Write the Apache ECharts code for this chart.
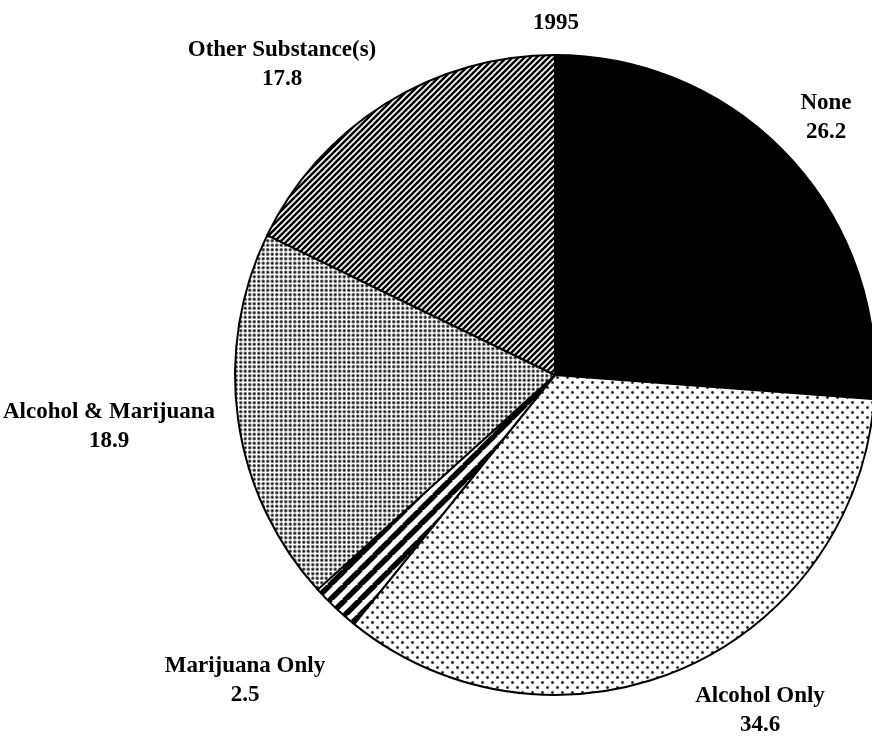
<!DOCTYPE html>
<html>
<head>
<meta charset="utf-8">
<script src="https://cdn.jsdelivr.net/npm/echarts@6/dist/echarts.min.js"></script>
<style>
  html, body { margin: 0; padding: 0; background: #fff; }
  #chart { width: 872px; height: 746px; }
</style>
</head>
<body>
<div id="chart"></div>
<script>
// Substance use, 1995 (percent)
const categories = ['None', 'Alcohol Only', 'Marijuana Only', 'Alcohol & Marijuana', 'Other Substance(s)'];
const shares = [26.2, 34.6, 2.5, 18.9, 17.8];
const chartTitle = '1995';

// where each category's caption block is centred
const labelSpots = [[826, 118], [760, 711], [245, 681], [109, 427], [282, 65]];

function makeTile(w, h, paint) {
  const c = document.createElement('canvas');
  c.width = w; c.height = h;
  const ctx = c.getContext('2d');
  ctx.fillStyle = '#fff';
  ctx.fillRect(0, 0, w, h);
  paint(ctx, w, h);
  return c;
}

function dot(ctx, x, y, r, a) {
  const g = ctx.createRadialGradient(x, y, 0, x, y, r);
  g.addColorStop(0, 'rgba(0,0,0,' + a + ')');
  g.addColorStop(0.5, 'rgba(0,0,0,' + (a * 0.65) + ')');
  g.addColorStop(1, 'rgba(0,0,0,0)');
  ctx.fillStyle = g;
  ctx.beginPath();
  ctx.arc(x, y, r, 0, Math.PI * 2);
  ctx.fill();
}

// sparse staggered dots
const sparseDots = makeTile(10, 10, (ctx) => {
  dot(ctx, 2.5, 2.5, 2.2, 1);
  dot(ctx, 7.5, 7.5, 2.2, 1);
});

// dense dot grid
const denseDots = makeTile(9, 9, (ctx) => {
  [[2.25, 2.25], [6.75, 2.25], [2.25, 6.75], [6.75, 6.75]].forEach(([x, y]) => dot(ctx, x, y, 2.3, 1));
});

// rising diagonal stripes
function stripes(size, width) {
  return makeTile(size, size, (ctx, w, h) => {
    ctx.strokeStyle = '#000';
    ctx.lineWidth = width;
    for (let k = -1; k <= 1; k++) {
      ctx.beginPath();
      ctx.moveTo(k * w - 1, h + 1);
      ctx.lineTo(k * w + w + 1, -1);
      ctx.stroke();
    }
  });
}
const fineStripes = stripes(6, 2.5);
const wideStripes = stripes(15, 5.5);

const fills = [
  '#000000',
  { image: sparseDots, repeat: 'repeat' },
  { image: wideStripes, repeat: 'repeat' },
  { image: denseDots, repeat: 'repeat' },
  { image: fineStripes, repeat: 'repeat' }
];

const pieData = categories.map((name, i) => ({
  name: name,
  value: shares[i],
  itemStyle: { color: fills[i] }
}));

const chart = echarts.init(document.getElementById('chart'), null, { renderer: 'canvas' });
chart.setOption({
  animation: false,
  backgroundColor: '#fff',
  title: {
    text: chartTitle,
    left: 551,
    top: 18,
    textAlign: 'center',
    textVerticalAlign: 'middle',
    textStyle: {
      fontFamily: 'Liberation Serif',
      fontWeight: 'bold',
      fontSize: 23,
      color: '#000'
    }
  },
  series: [{
    type: 'pie',
    center: [555, 375],
    radius: [0, 320],
    startAngle: 90,
    clockwise: true,
    avoidLabelOverlap: false,
    data: pieData,
    itemStyle: { borderColor: '#000', borderWidth: 2 },
    emphasis: { disabled: true },
    labelLine: { show: false },
    label: {
      show: true,
      position: 'outside',
      formatter: (p) => p.name + '\n' + p.value.toFixed(1),
      fontFamily: 'Liberation Serif',
      fontWeight: 'bold',
      fontSize: 23,
      lineHeight: 29,
      color: '#000',
      align: 'center'
    },
    labelLayout: (params) => ({
      x: labelSpots[params.dataIndex][0],
      y: labelSpots[params.dataIndex][1],
      align: 'center',
      verticalAlign: 'middle'
    })
  }]
});
</script>
</body>
</html>
